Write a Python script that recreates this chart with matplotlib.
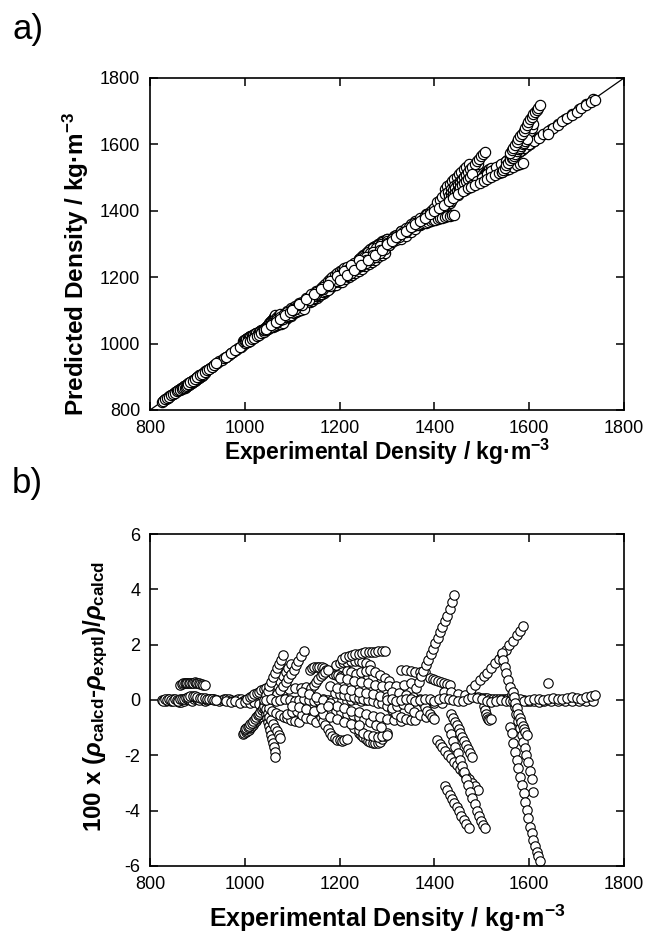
import matplotlib
matplotlib.use("Agg")
import matplotlib.pyplot as plt
import numpy as np

plt.rcParams['font.family'] = ['Liberation Sans', 'DejaVu Sans']
plt.rcParams['axes.unicode_minus'] = False
plt.rcParams['mathtext.fontset'] = 'custom'
plt.rcParams['mathtext.rm'] = 'Liberation Sans:bold'
plt.rcParams['mathtext.bf'] = 'Liberation Sans:bold'
plt.rcParams['mathtext.it'] = 'Liberation Sans:italic:bold'

# ---- data: strands of (experimental density, 100*(calc-expt)/calc) ----
base_low = [(825, 0.00), (829, 0.01), (833, -0.02), (837, 0.02), (841, 0.00), (845, -0.03),
            (849, 0.02), (853, 0.01), (857, -0.04), (861, -0.06), (866, -0.08), (871, -0.05),
            (876, 0.02), (881, 0.05), (886, 0.08), (891, 0.10), (896, 0.08), (901, 0.05),
            (906, 0.03), (911, 0.00), (916, -0.02), (921, 0.00), (926, 0.03), (931, 0.05),
            (936, 0.02), (941, -0.01), (946, -0.03), (951, 0.00), (956, 0.02), (961, 0.04),
            (966, 0.03), (971, 0.00), (976, -0.02), (981, 0.01), (986, 0.04), (991, 0.02),
            (996, -0.02), (1001, 0.00), (1006, 0.05), (1011, 0.08), (1016, 0.03), (1021, -0.02),
            (1026, 0.05), (1031, 0.10), (1036, 0.15), (1041, 0.20)]
base_low2 = [(827, -0.03), (832, 0.02), (836, -0.01), (840, 0.03), (844, 0.00), (848, -0.02),
             (852, 0.03), (856, 0.00), (860, -0.02), (864, 0.02), (868, 0.05), (872, 0.03),
             (876, 0.07), (880, 0.04), (884, 0.00), (888, -0.03), (892, 0.02), (896, 0.06),
             (900, 0.03), (904, 0.00), (960, -0.05), (970, -0.08), (980, -0.04), (990, -0.10),
             (1000, -0.06), (1010, -0.12), (1020, -0.08), (1030, -0.15), (1040, -0.10)]
upper_06 = [(864, 0.55), (867, 0.58), (870, 0.60), (873, 0.61), (876, 0.62), (879, 0.62),
            (882, 0.63), (885, 0.63), (888, 0.62), (891, 0.63), (894, 0.65), (897, 0.62),
            (900, 0.61), (903, 0.60), (906, 0.58), (909, 0.57), (912, 0.56), (915, 0.55)]
upper_01 = [(880, 0.12), (885, 0.14), (890, 0.15), (895, 0.13), (900, 0.10), (905, 0.09),
            (910, 0.08), (915, 0.06), (920, 0.05), (925, 0.04), (930, 0.02), (935, 0.00), (940, -0.01)]
neg_dark1 = [(996, -1.22), (999, -1.20), (1002, -1.17), (1005, -1.13), (1008, -1.08), (1011, -1.03),
             (1014, -0.97), (1017, -0.90), (1020, -0.83), (1023, -0.76), (1026, -0.68), (1029, -0.60),
             (1032, -0.52), (1035, -0.44), (1038, -0.36), (1041, -0.28), (1044, -0.20)]
neg_dark2 = [(1000, -1.05), (1003, -1.02), (1006, -0.98), (1009, -0.94), (1012, -0.88), (1015, -0.82),
             (1018, -0.76), (1021, -0.70), (1024, -0.63), (1027, -0.56), (1030, -0.49), (1033, -0.42),
             (1036, -0.35), (1039, -0.28), (1042, -0.20), (1045, -0.12)]
pos_dark = [(1005, 0.05), (1010, 0.10), (1015, 0.15), (1020, 0.20), (1025, 0.25), (1030, 0.30),
            (1035, 0.35), (1040, 0.40), (1045, 0.45)]
zero_mid = [(1045, 0.00), (1055, 0.02), (1065, -0.02), (1075, 0.00), (1085, 0.03), (1095, 0.01),
            (1105, -0.02), (1115, 0.00), (1125, 0.03), (1135, 0.00), (1145, -0.03), (1155, 0.00),
            (1165, 0.02), (1175, -0.01), (1185, 0.00), (1195, 0.03), (1205, 0.00), (1215, -0.03),
            (1225, 0.00), (1235, 0.02), (1245, -0.02), (1255, 0.00), (1265, 0.03), (1275, 0.00),
            (1285, -0.02), (1295, 0.00), (1305, 0.02)]
drop_a = [(1043, -0.35), (1045, -0.50), (1047, -0.65), (1049, -0.80), (1051, -0.95), (1053, -1.10),
          (1055, -1.25), (1057, -1.40), (1059, -1.55), (1061, -1.70), (1063, -1.88), (1064, -2.05)]
drop_b = [(1040, -0.20), (1044, -0.33), (1048, -0.46), (1052, -0.60), (1056, -0.74), (1060, -0.88),
          (1064, -1.00), (1068, -1.13), (1072, -1.27), (1075, -1.38)]
rise_a = [(1040, 0.00), (1044, 0.17), (1048, 0.33), (1052, 0.50), (1056, 0.66), (1060, 0.82),
          (1064, 0.98), (1068, 1.14), (1072, 1.30), (1076, 1.46), (1080, 1.63)]
rise_b = [(1062, 0.05), (1068, 0.20), (1074, 0.35), (1080, 0.50), (1086, 0.65), (1092, 0.80),
          (1098, 0.95), (1103, 1.10), (1108, 1.25), (1113, 1.40), (1119, 1.58), (1125, 1.77)]
rise_c = [(1050, 0.10), (1056, 0.25), (1062, 0.40), (1068, 0.55), (1074, 0.70), (1080, 0.85),
          (1086, 1.00), (1092, 1.15), (1098, 1.30)]
mid_neg = [(1050, -0.30), (1058, -0.38), (1066, -0.46), (1074, -0.53), (1082, -0.60), (1090, -0.66),
           (1098, -0.71), (1106, -0.75), (1114, -0.80)]
mid_pos = [(1070, 0.30), (1082, 0.35), (1094, 0.38), (1106, 0.42), (1118, 0.45), (1130, 0.48)]
band_11 = [(1137, 1.10), (1142, 1.15), (1147, 1.18), (1152, 1.20), (1157, 1.20), (1162, 1.18),
           (1167, 1.15), (1172, 1.10), (1177, 1.05), (1182, 1.00), (1187, 0.95), (1192, 0.92),
           (1197, 0.90), (1202, 0.88), (1210, 0.86), (1220, 0.85), (1230, 0.84), (1240, 0.84),
           (1250, 0.83), (1260, 0.83), (1270, 0.84)]
climb_11 = [(1135, 0.30), (1140, 0.42), (1145, 0.55), (1150, 0.65), (1155, 0.75), (1160, 0.85),
            (1165, 0.93), (1170, 1.00), (1175, 1.10)]
arc_top = [(1205, 1.50), (1212, 1.56), (1219, 1.60), (1226, 1.63), (1233, 1.66), (1240, 1.68),
           (1247, 1.70), (1254, 1.72), (1261, 1.73), (1268, 1.74), (1275, 1.75), (1282, 1.76),
           (1289, 1.77), (1296, 1.77)]
arc_low = [(1192, 1.26), (1200, 1.32), (1208, 1.36), (1216, 1.39), (1224, 1.41), (1232, 1.41),
           (1240, 1.40), (1248, 1.37), (1256, 1.33), (1264, 1.28)]
dip_a = [(1160, -0.60), (1165, -0.75), (1170, -0.90), (1175, -1.05), (1180, -1.20), (1185, -1.30),
         (1190, -1.38), (1195, -1.43), (1200, -1.46), (1205, -1.47), (1210, -1.45), (1215, -1.40)]
dip_dark1 = [(1240, -1.20), (1245, -1.28), (1250, -1.35), (1255, -1.42), (1260, -1.48), (1265, -1.52),
             (1270, -1.55), (1275, -1.56), (1280, -1.55), (1285, -1.50), (1290, -1.42), (1295, -1.30),
             (1300, -1.20)]
dip_dark2 = [(1230, -1.00), (1240, -1.10), (1250, -1.18), (1260, -1.25), (1270, -1.30), (1280, -1.32),
             (1290, -1.30), (1300, -1.25)]
slope_a = [(1120, 0.30), (1135, 0.20), (1150, 0.10), (1165, 0.00), (1180, -0.10), (1195, -0.20),
           (1210, -0.30), (1225, -0.38), (1240, -0.45), (1255, -0.52), (1270, -0.58), (1285, -0.63),
           (1300, -0.68), (1315, -0.72), (1330, -0.75)]
slope_b = [(1180, 0.50), (1195, 0.45), (1210, 0.40), (1225, 0.35), (1240, 0.30), (1255, 0.25),
           (1270, 0.20), (1285, 0.15), (1300, 0.10), (1315, 0.05)]
slope_c = [(1150, -0.40), (1165, -0.50), (1180, -0.60), (1195, -0.70), (1210, -0.78), (1225, -0.85),
           (1240, -0.90)]
slope_d = [(1200, 0.80), (1215, 0.75), (1230, 0.70), (1245, 0.65), (1260, 0.60), (1275, 0.55),
           (1290, 0.52), (1305, 0.50), (1320, 0.50), (1335, 0.55), (1350, 0.60)]
slope_e = [(1100, -0.20), (1115, -0.25), (1130, -0.32), (1145, -0.38), (1160, -0.30), (1175, -0.22)]
fill_a = [(1190, 0.25), (1200, 0.22), (1210, 0.18), (1220, 0.15), (1230, 0.10), (1240, 0.08),
          (1250, 0.05), (1260, 0.00), (1270, -0.05), (1280, -0.10), (1290, -0.12)]
fill_b = [(1180, -0.35), (1192, -0.40), (1204, -0.45), (1216, -0.50), (1228, -0.55), (1240, -0.60),
          (1252, -0.70), (1264, -0.80), (1276, -0.90), (1288, -0.98)]
fill_c = [(1215, 1.05), (1225, 1.00), (1235, 0.95), (1245, 1.00), (1255, 1.05), (1265, 1.10),
          (1275, 1.00), (1285, 0.90), (1295, 0.80), (1305, 0.70)]
fill_d = [(1090, -0.50), (1100, -0.45), (1110, -0.40), (1120, -0.55), (1130, -0.65), (1140, -0.70),
          (1150, -0.78)]
fill_e = [(1310, -0.30), (1322, -0.20), (1334, -0.15), (1346, -0.30), (1358, -0.45), (1370, -0.55),
          (1382, -0.60)]
right_mid1 = [(1300, -0.20), (1310, -0.35), (1320, -0.50), (1330, -0.60), (1340, -0.68), (1350, -0.72),
              (1360, -0.74)]
right_mid2 = [(1330, 1.10), (1340, 1.08), (1350, 1.05), (1360, 1.02), (1370, 1.00), (1380, 1.00)]
right_mid3 = [(1390, 0.80), (1396, 0.76), (1402, 0.72), (1408, 0.68), (1414, 0.64), (1420, 0.60),
              (1426, 0.57), (1432, 0.55)]
right_mid4 = [(1310, 0.30), (1325, 0.25), (1340, 0.18), (1355, 0.10), (1370, 0.02), (1385, -0.05),
              (1400, -0.10), (1415, -0.12)]
spike_up = [(1362, 0.45), (1367, 0.65), (1372, 0.85), (1377, 1.05), (1382, 1.25), (1387, 1.45),
            (1392, 1.65), (1397, 1.85), (1402, 2.05), (1407, 2.25), (1412, 2.45), (1417, 2.65),
            (1422, 2.85), (1427, 3.05), (1432, 3.30), (1437, 3.55), (1442, 3.79)]
fall_0 = [(1375, -0.10), (1380, -0.25), (1385, -0.40), (1390, -0.50), (1395, -0.60), (1400, -0.70)]
fall_1 = [(1422, -3.11), (1427, -3.26), (1432, -3.42), (1437, -3.57), (1442, -3.72), (1447, -3.88),
          (1452, -4.03), (1457, -4.18), (1462, -4.33), (1467, -4.49), (1472, -4.64)]
fall_2 = [(1405, -1.45), (1411, -1.58), (1417, -1.71), (1423, -1.84), (1429, -1.97), (1436, -2.10),
          (1442, -2.23), (1448, -2.36), (1455, -2.48), (1461, -2.61), (1467, -2.74), (1474, -2.87),
          (1480, -3.00), (1486, -3.12), (1493, -3.25)]
fall_3 = [(1430, -1.00), (1435, -1.24), (1440, -1.47), (1444, -1.70), (1449, -1.93), (1453, -2.16),
          (1458, -2.39), (1462, -2.62), (1467, -2.85), (1471, -3.08), (1476, -3.31), (1480, -3.54),
          (1485, -3.77), (1489, -4.00), (1494, -4.20), (1498, -4.38), (1503, -4.52), (1507, -4.63)]
fall_4 = [(1435, -0.50), (1439, -0.64), (1443, -0.78), (1447, -0.92), (1451, -1.06), (1455, -1.20),
          (1459, -1.34), (1463, -1.48), (1467, -1.62), (1471, -1.76), (1475, -1.90), (1480, -2.05)]
hook = [(1505, -0.20), (1507, -0.35), (1509, -0.50), (1511, -0.62), (1513, -0.70), (1516, -0.72),
        (1519, -0.68)]
climb_r = [(1477, 0.40), (1486, 0.55), (1496, 0.72), (1504, 0.85), (1511, 0.98), (1520, 1.15),
           (1528, 1.33), (1536, 1.50), (1543, 1.65), (1550, 1.82), (1557, 1.98), (1566, 2.15),
           (1574, 2.35), (1580, 2.50), (1587, 2.67)]
steep_1 = [(1542, 1.69), (1545, 1.45), (1549, 1.20), (1552, 0.96), (1556, 0.72), (1559, 0.47),
           (1563, 0.23), (1566, -0.02), (1570, -0.27), (1573, -0.51), (1577, -0.76), (1580, -1.00),
           (1584, -1.25), (1587, -1.50), (1591, -1.75), (1594, -2.00), (1598, -2.25), (1601, -2.55),
           (1605, -2.85), (1609, -3.31)]
steep_2 = [(1560, -0.96), (1563, -1.20), (1566, -1.57), (1570, -1.87), (1574, -2.17), (1577, -2.47),
           (1581, -2.77), (1584, -3.07), (1588, -3.37), (1591, -3.68), (1595, -3.98), (1598, -4.28),
           (1602, -4.58), (1605, -4.82), (1609, -5.06), (1612, -5.27), (1616, -5.48), (1619, -5.65),
           (1623, -5.82)]
steep_3 = [(1565, 0.30), (1568, 0.10), (1571, -0.10), (1574, -0.30), (1577, -0.50), (1580, -0.65),
           (1583, -0.80), (1586, -0.95), (1589, -1.05), (1592, -1.15), (1595, -1.27)]
zero_right = [(1300, 0.00), (1310, 0.03), (1320, -0.02), (1330, 0.00), (1340, 0.04), (1350, 0.02),
              (1360, -0.03), (1370, 0.00), (1380, 0.05), (1390, 0.02), (1400, -0.02), (1410, 0.03),
              (1420, 0.08), (1430, 0.05), (1440, 0.00), (1450, -0.05), (1460, -0.02), (1470, 0.05),
              (1480, 0.10), (1490, 0.08), (1500, 0.02), (1510, -0.04), (1520, -0.06), (1530, -0.03),
              (1540, 0.00), (1550, -0.05), (1560, -0.02), (1570, 0.00), (1580, 0.03), (1590, -0.02),
              (1600, 0.00), (1610, 0.05), (1620, 0.02), (1630, 0.00), (1640, 0.05), (1650, 0.08),
              (1660, 0.05), (1670, 0.02), (1680, 0.06), (1690, 0.10), (1700, 0.08), (1710, 0.03),
              (1720, 0.10), (1730, 0.15), (1738, 0.18)]
zero_right2 = [(1420, 0.30), (1435, 0.28), (1450, 0.22), (1465, 0.18), (1480, 0.14), (1492, 0.10),
               (1500, 0.08), (1506, 0.07), (1512, 0.06), (1518, 0.05), (1524, 0.05), (1530, 0.04),
               (1536, 0.04), (1542, 0.03), (1548, 0.03), (1554, 0.02), (1560, 0.02), (1566, 0.01),
               (1572, 0.01), (1578, 0.00), (1584, 0.00), (1590, -0.01), (1596, -0.02), (1602, -0.03),
               (1610, -0.05), (1620, -0.06), (1632, -0.05), (1645, -0.04), (1660, -0.05),
               (1675, -0.02), (1690, -0.04), (1705, -0.02), (1720, -0.05), (1735, -0.03)]
isolated = [(1640, 0.60)]

strands = [base_low, base_low2, upper_06, upper_01, neg_dark1, neg_dark2, pos_dark,
           drop_a, drop_b, mid_neg, mid_pos, fill_d, rise_c, rise_a, rise_b, zero_mid,
           band_11, climb_11, arc_low, arc_top, dip_dark1, dip_dark2, dip_a,
           fill_a, fill_b, fill_c, slope_a, slope_b, slope_c, slope_d, slope_e,
           right_mid1, right_mid2, right_mid3, right_mid4, fill_e, spike_up, fall_0,
           fall_1, fall_2, fall_3, fall_4, hook, zero_right2, zero_right, climb_r,
           steep_1, steep_3, steep_2, isolated]

xs = np.array([p[0] for s in strands for p in s], dtype=float)
devs = np.array([p[1] for s in strands for p in s], dtype=float)
predicted = xs * (1 - devs / 100.0)

x_ticks = [800, 1000, 1200, 1400, 1600, 1800]
ya_ticks = [800, 1000, 1200, 1400, 1600, 1800]
yb_ticks = [-6, -4, -2, 0, 2, 4, 6]

fig = plt.figure(figsize=(6.48, 9.42), dpi=100)
ax1 = fig.add_axes([150/648, 1-410/942, 474/648, 332/942])
ax2 = fig.add_axes([150/648, 1-866/942, 474/648, 332/942])

ax1.plot([800, 1800], [800, 1800], color='black', lw=0.9, zorder=1)
ax1.scatter(xs, predicted, s=55, facecolors='white', edgecolors='black', linewidths=0.85, zorder=2)
ax2.scatter(xs, devs, s=46, facecolors='white', edgecolors='black', linewidths=0.8, zorder=2)

for ax in (ax1, ax2):
    ax.set_xlim(800, 1800)
    ax.set_xticks(x_ticks)
    ax.tick_params(direction='in', length=6, width=1.1, top=True, right=True,
                   labelsize=13, pad=7, colors='black')
    for sp in ax.spines.values():
        sp.set_linewidth(1.2)
ax1.set_ylim(800, 1800)
ax1.set_yticks(ya_ticks)
ax2.set_ylim(-6, 6)
ax2.set_yticks(yb_ticks)

ax1.set_xlabel(r'Experimental Density / kg·m$^{-3}$', fontsize=16.5, fontweight='bold')
ax1.set_ylabel(r'Predicted Density / kg·m$^{-3}$', fontsize=17.5, fontweight='bold')
ax2.set_xlabel(r'Experimental Density / kg·m$^{-3}$', fontsize=18, fontweight='bold')
ax2.set_ylabel(r'100 x ($\rho_{\mathrm{calcd}}$-$\rho_{\mathrm{exptl}}$)/$\rho_{\mathrm{calcd}}$',
               fontsize=17.5, fontweight='bold')
ax1.xaxis.set_label_coords(0.5, -0.08)
ax2.xaxis.set_label_coords(0.5, -0.11)
ax1.yaxis.set_label_coords(-0.125, 0.44)
ax2.yaxis.set_label_coords(-0.084, 0.51)

fig.text(12/648, 1-13/942, 'a)', fontsize=25, ha='left', va='top')
fig.text(12/648, 1-467/942, 'b)', fontsize=25, ha='left', va='top')

fig.savefig('out.png', dpi=100)
